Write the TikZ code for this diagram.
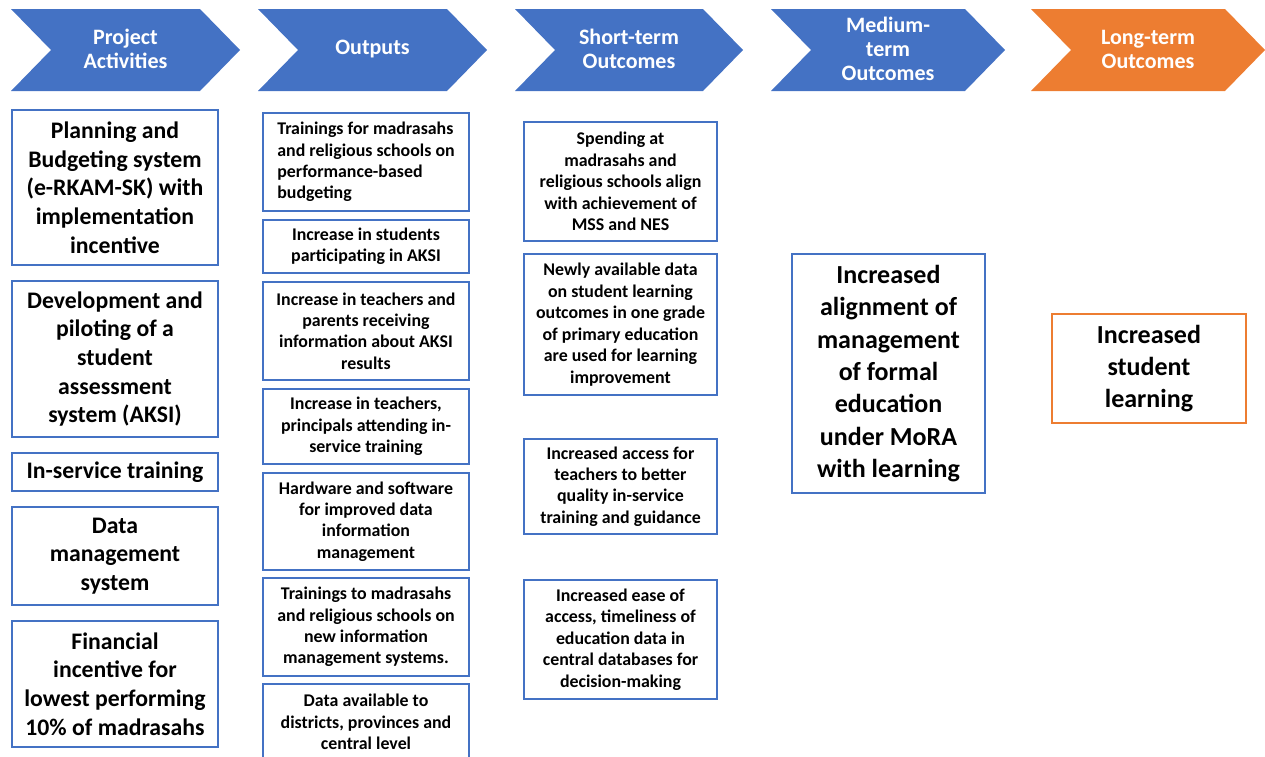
\documentclass[tikz,border=0pt]{standalone}
\usepackage{fontspec}
\setmainfont{Carlito}
\definecolor{stageblue}{HTML}{4472C4}
\definecolor{stageorange}{HTML}{ED7D31}

\begin{document}
\begin{tikzpicture}[x=0.75pt,y=-0.75pt,
  cell/.style 2 args={minimum width=#1*0.75pt,minimum height=#2*0.75pt},
  box/.style={draw=stageblue,line width=1.5pt,fill=white,inner sep=0pt,align=center},
  big/.style={box,font=\fontsize{17.8}{21.5}\selectfont\bfseries},
  small/.style={box,font=\fontsize{13.4}{16.1}\selectfont\bfseries},
  huge/.style={box,font=\fontsize{19.5}{24.3}\selectfont\bfseries}]
  \useasboundingbox (0,0) rectangle (1265,757);
  % header chevrons
  \foreach \l/\w/\c/\t [count=\i] in {11/229/stageblue/{Project\\Activities},
    258/229/stageblue/{Outputs}, 515/228/stageblue/{Short-term\\Outcomes},
    771/234/stageblue/{Medium-\\term\\Outcomes}, 1031/234/stageorange/{Long-term\\Outcomes}}
  {
    \fill[\c] (\l,9) -- ++(\w-40,0) -- ++(40,41) -- ++(-40,41) -- ++(-\w+40,0) -- ++(40,-41) -- cycle;
    \node (stage\i) at (\l+\w/2,49) [text=white,align=center,font=\fontsize{16.5}{18}\selectfont\bfseries]{\t};
  }
  % project activities
  \node (act1) at (115,187.5) [big,cell={206}{155}]{Planning and\\Budgeting system\\(e-RKAM-SK) with\\implementation\\incentive};
  \node (act2) at (115,359) [big,cell={206}{156}]{Development and\\piloting of a\\student\\assessment\\system (AKSI)};
  \node (act3) at (115,472) [big,cell={206}{38}]{In-service training};
  \node (act4) at (115,556) [big,cell={206}{98}]{Data\\management\\system};
  \node (act5) at (115,684) [big,cell={206}{126}]{Financial\\incentive for\\lowest performing\\10\% of madrasahs};
  % outputs
  \node (out1) at (366,162) [small,cell={206}{98},align=left]{Trainings for madrasahs\\and religious schools on\\performance-based\\budgeting};
  \node (out2) at (366,246.5) [small,cell={206}{53}]{Increase in students\\participating in AKSI};
  \node (out3) at (366,331) [small,cell={206}{98}]{Increase in teachers and\\parents receiving\\information about AKSI\\results};
  \node (out4) at (366,426.5) [small,cell={206}{75}]{Increase in teachers,\\principals attending in-\\service training};
  \node (out5) at (366,521.5) [small,cell={206}{97}]{Hardware and software\\for improved data\\information\\management};
  \node (out6) at (366,627) [small,cell={206}{98}]{Trainings to madrasahs\\and religious schools on\\new information\\management systems.};
  \node (out7) at (366,722) [small,cell={206}{76}]{Data available to\\districts, provinces and\\central level};
  % short-term outcomes
  \node (short1) at (620.5,181.5) [small,cell={193}{119}]{Spending at\\madrasahs and\\religious schools align\\with achievement of\\MSS and NES};
  \node (short2) at (620.5,324.5) [small,cell={193}{141}]{Newly available data\\on student learning\\outcomes in one grade\\of primary education\\are used for learning\\improvement};
  \node (short3) at (620.5,486.5) [small,cell={193}{95}]{Increased access for\\teachers to better\\quality in-service\\training and guidance};
  \node (short4) at (620.5,639.5) [small,cell={193}{119}]{Increased ease of\\access, timeliness of\\education data in\\central databases for\\decision-making};
  % medium and long term
  \node (medium) at (888.5,373.5) [huge,cell={193}{239}]{Increased\\alignment of\\management\\of formal\\education\\under MoRA\\with learning};
  \node (long) at (1149,368.5) [huge,cell={194}{109},draw=stageorange]{Increased\\student\\learning};
\end{tikzpicture}
\end{document}
